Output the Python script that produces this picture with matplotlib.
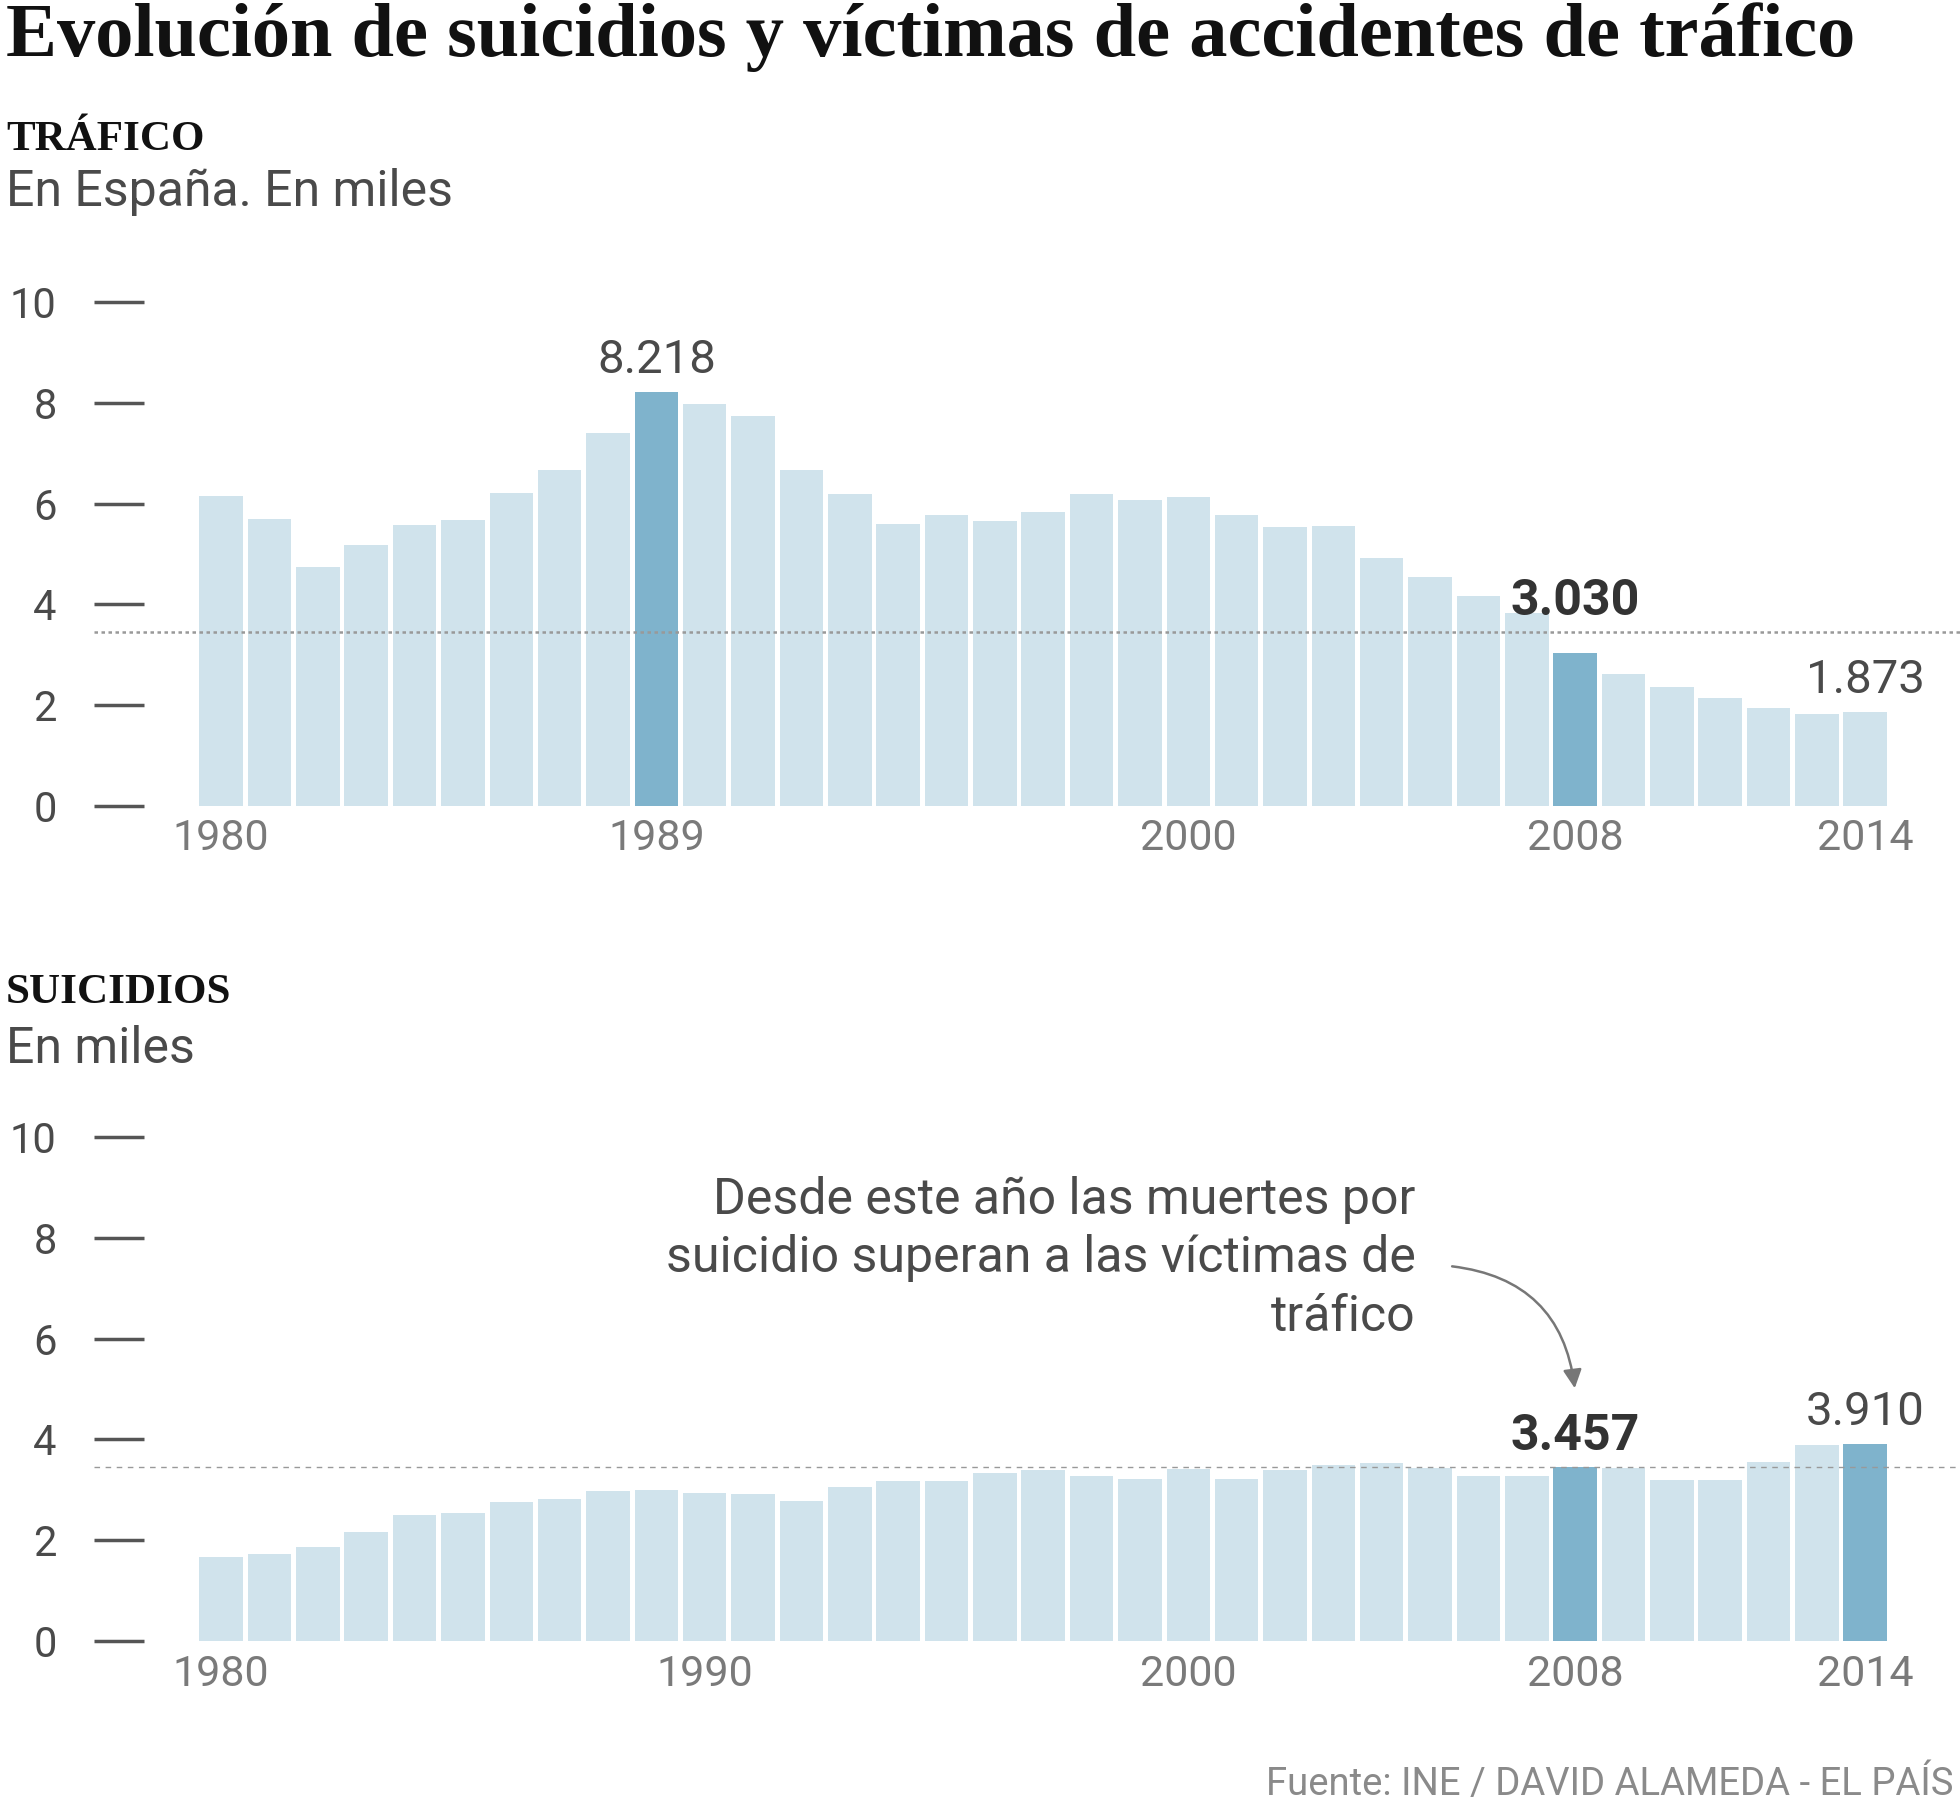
import matplotlib
matplotlib.use('Agg')
import matplotlib.pyplot as plt

# DATA ##########################################

years = list(range(1980, 2015))
trafico = [6.16, 5.70, 4.74, 5.18, 5.58, 5.67, 6.22, 6.67, 7.41, 8.218,
           7.98, 7.74, 6.67, 6.20, 5.59, 5.77, 5.66, 5.84, 6.19, 6.07,
           6.13, 5.78, 5.53, 5.55, 4.92, 4.55, 4.17, 3.82, 3.030, 2.62,
           2.37, 2.14, 1.94, 1.83, 1.873]
suicidios = [1.66, 1.72, 1.86, 2.17, 2.50, 2.53, 2.76, 2.81, 2.97, 3.00,
             2.94, 2.92, 2.78, 3.05, 3.17, 3.17, 3.33, 3.40, 3.28, 3.22,
             3.42, 3.21, 3.39, 3.50, 3.54, 3.43, 3.28, 3.28, 3.457, 3.43,
             3.19, 3.19, 3.55, 3.89, 3.910]

trafico_highlight = [1989, 2008]
suicidios_highlight = [2008, 2014]
trafico_labels = {1989: 'normal', 2008: 'bold', 2014: 'normal'}
suicidios_labels = {2008: 'bold', 2014: 'normal'}
trafico_xticks = [1980, 1989, 2000, 2008, 2014]
suicidios_xticks = [1980, 1990, 2000, 2008, 2014]
yticks = [0, 2, 4, 6, 8, 10]

# SETUP #########################################

SANS = ['Roboto', 'DejaVu Sans']
SERIF = ['Liberation Serif', 'DejaVu Serif']
LIGHT = '#d0e3ec'
DARK = '#7fb3cc'

plt.rcParams['font.family'] = SANS
plt.rcParams['font.weight'] = 'normal'

W, H = 1960, 1820
fig = plt.figure(figsize=(W / 100, H / 100), dpi=100)

def fy(px):
    # pixel from top -> figure fraction
    return 1 - px / H

x0, x1 = 1977.37, 2015.96
ax_left = 94 / W
ax_w = 1 - ax_left
ax_h = 504 / H

ref_value = suicidios[years.index(2008)]

def panel(ax, values, highlight, labels, xticks, ref_style):
    colors = [DARK if y in highlight else LIGHT for y in years]
    ax.bar(years, values, width=0.9, color=colors, zorder=2)
    ax.set_xlim(x0, x1)
    ax.set_ylim(0, 10)
    for s in ax.spines.values():
        s.set_visible(False)
    ax.set_yticks(yticks)
    ax.set_yticklabels([str(t) for t in yticks])
    ax.tick_params(axis='y', direction='in', length=36, width=2.5,
                   color='#555555', pad=27, labelsize=30, labelcolor='#4a4a4a')
    ax.set_xticks(xticks)
    ax.set_xticklabels([str(t) for t in xticks])
    ax.tick_params(axis='x', length=0, pad=9, labelsize=31, labelcolor='#7a7a7a')
    if ref_style == 'dotted':
        ax.axhline(ref_value, color='#999999', lw=1.8,
                   linestyle=(0, (1.4, 1.4)), zorder=3)
    else:
        ax.axhline(ref_value, color='#999999', lw=1.0,
                   linestyle=(0, (4, 4)), zorder=3)
    for yr, weight in labels.items():
        v = values[years.index(yr)]
        if weight == 'bold':
            y_base = max(v, ref_value)
            ax.annotate(f'{v:.3f}', (yr, y_base), xytext=(0, 12),
                        textcoords='offset points', ha='center', va='baseline',
                        fontsize=36, fontweight='bold', color='#333333',
                        annotation_clip=False)
        else:
            ax.annotate(f'{v:.3f}', (yr, v), xytext=(0, 13.5),
                        textcoords='offset points', ha='center', va='baseline',
                        fontsize=34, color='#4a4a4a', annotation_clip=False)

# FIGURE ########################################

ax1 = fig.add_axes([ax_left, fy(806), ax_w, ax_h])
panel(ax1, trafico, trafico_highlight, trafico_labels, trafico_xticks, 'dotted')

ax2 = fig.add_axes([ax_left, fy(1641), ax_w, ax_h])
panel(ax2, suicidios, suicidios_highlight, suicidios_labels, suicidios_xticks, 'dashed')

# TEXTS #########################################

fig.text(6 / W, fy(56), 'Evolución de suicidios y víctimas de accidentes de tráfico',
         family=SERIF, fontweight='bold', fontsize=55, color='#111111', va='baseline')
fig.text(6 / W, fy(150), 'TRÁFICO', family=SERIF, fontweight='bold',
         fontsize=31, color='#111111', va='baseline')
fig.text(6 / W, fy(206), 'En España. En miles', fontsize=36,
         color='#4a4a4a', va='baseline')
fig.text(6 / W, fy(1003), 'SUICIDIOS', family=SERIF, fontweight='bold',
         fontsize=31, color='#111111', va='baseline')
fig.text(6 / W, fy(1063), 'En miles', fontsize=36,
         color='#4a4a4a', va='baseline')

ax2.text(2004.7, 7.59,
         'Desde este año las muertes por\nsuicidio superan a las víctimas de\ntráfico',
         ha='right', va='center', multialignment='right', fontsize=36,
         color='#4a4a4a', linespacing=1.27)
ax2.annotate('', xy=(2008, 4.96), xytext=(2005.4, 7.44),
             arrowprops=dict(arrowstyle='-|>', color='#777777', lw=1.8,
                             mutation_scale=28,
                             connectionstyle='arc3,rad=-0.4'),
             annotation_clip=False)

fig.text(1953 / W, fy(1784), 'Fuente: INE / DAVID ALAMEDA - EL PAÍS',
         ha='right', va='center', fontsize=27.5, color='#8a8a8a')

fig.savefig('out.png', dpi=100, facecolor='white')
